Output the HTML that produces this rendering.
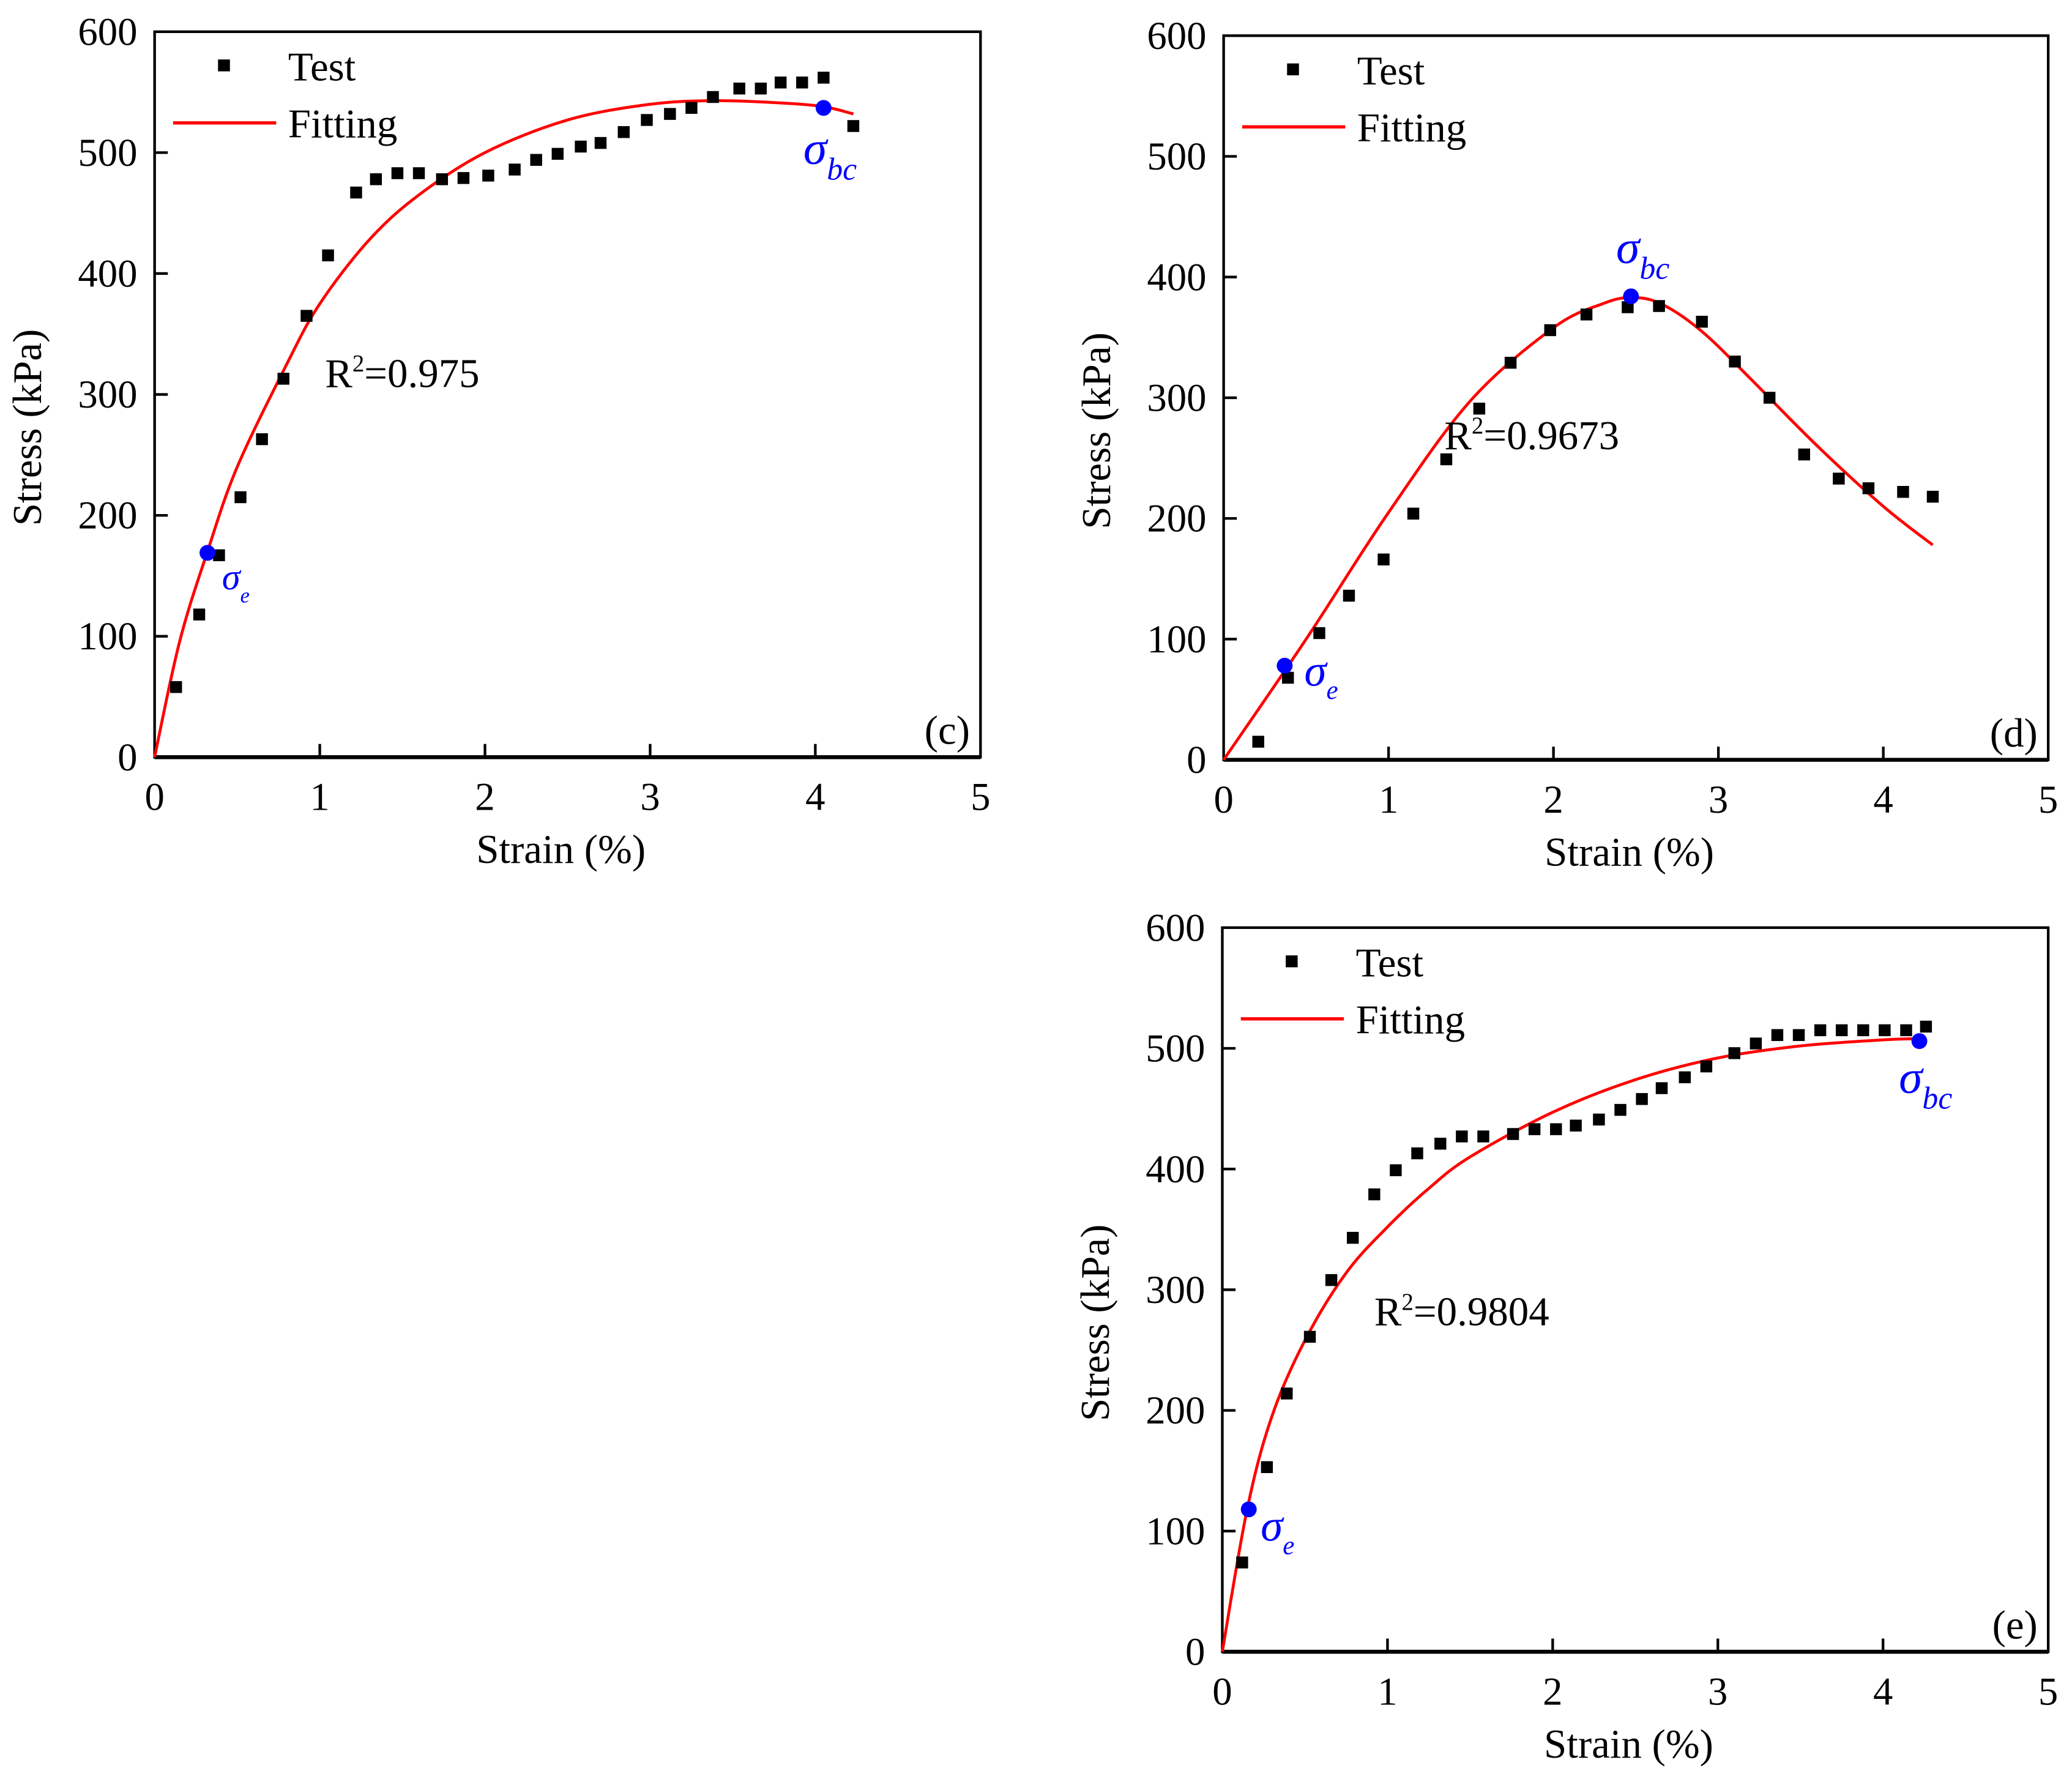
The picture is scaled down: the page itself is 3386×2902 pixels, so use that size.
<!DOCTYPE html>
<html><head><meta charset="utf-8">
<style>html,body{margin:0;padding:0;background:#fff}svg{display:block}svg text{font-family:"Liberation Serif","Noto Serif CJK SC",serif}</style>
</head><body>
<svg id="fig" xmlns="http://www.w3.org/2000/svg" width="3386" height="2902" viewBox="0 0 1568 1344" preserveAspectRatio="none"></svg>
<script>
// Panel (c)
const cStrain=[0.13,0.27,0.39,0.52,0.65,0.78,0.92,1.05,1.22,1.34,1.47,1.6,1.74,1.87,2.02,2.18,2.31,2.44,2.58,2.7,2.84,2.98,3.12,3.25,3.38,3.54,3.67,3.79,3.92,4.05,4.23];
const cStress=[58,118,167,215,263,313,365,415,467,478,483,483,478,479,481,486,494,499,505,508,517,527,532,537,546,553,553,558,558,562,522];
const cFitX=[0,0.15,0.32,0.5,0.8,1,1.3,1.6,2,2.5,3,3.4,3.8,4.05,4.23];
const cFitY=[0,95,170,240,325,375,428,465,500,527,540,543,541,538,532];
const cMarks=[[0.32,169],[4.05,537]];
// Panel (d)
const dStrain=[0.21,0.39,0.58,0.76,0.97,1.15,1.35,1.55,1.74,1.98,2.2,2.45,2.64,2.9,3.1,3.31,3.52,3.73,3.91,4.12,4.3];
const dStress=[15,68,105,136,166,204,249,291,329,356,369,375,376,363,330,300,253,233,225,222,218];
const dFitX=[0,0.5,1,1.5,2,2.3,2.47,2.65,2.9,3.2,3.6,4,4.3];
const dFitY=[0,100,205,298,358,378,383,378,355,315,260,210,178];
const dMarks=[[0.37,78],[2.47,384]];
// Panel (e)
const eStrain=[0.12,0.27,0.39,0.53,0.66,0.79,0.92,1.05,1.18,1.32,1.45,1.58,1.76,1.89,2.02,2.14,2.28,2.41,2.54,2.66,2.8,2.93,3.1,3.23,3.36,3.49,3.62,3.75,3.88,4.01,4.14,4.26];
const eStress=[74,153,214,261,308,343,379,399,413,421,427,427,429,433,433,436,441,449,458,467,476,485,496,504,511,511,515,515,515,515,515,518];
const eFitX=[0,0.15,0.3,0.5,0.75,1,1.25,1.5,2,2.5,3,3.5,4,4.22];
const eFitY=[0,118,195,258,314,352,384,410,447,474,492,502,507,508];
const eMarks=[[0.16,118],[4.22,506]];
const xTicks=[0,1,2,3,4,5];
const yTicks=[0,100,200,300,400,500,600];

const NS="http://www.w3.org/2000/svg";
const svg=document.getElementById('fig');
function mk(tag,attrs,parent,txt){const e=document.createElementNS(NS,tag);for(const k in attrs)e.setAttribute(k,attrs[k]);if(txt!==undefined)e.textContent=txt;(parent||svg).appendChild(e);return e;}
function smooth(pts){
  let d='M'+pts[0][0].toFixed(1)+','+pts[0][1].toFixed(1);
  for(let i=0;i<pts.length-1;i++){
    const p0=pts[Math.max(0,i-1)],p1=pts[i],p2=pts[i+1],p3=pts[Math.min(pts.length-1,i+2)];
    const c1=[p1[0]+(p2[0]-p0[0])/6,p1[1]+(p2[1]-p0[1])/6];
    const c2=[p2[0]-(p3[0]-p1[0])/6,p2[1]-(p3[1]-p1[1])/6];
    d+='C'+c1[0].toFixed(1)+','+c1[1].toFixed(1)+' '+c2[0].toFixed(1)+','+c2[1].toFixed(1)+' '+p2[0].toFixed(1)+','+p2[1].toFixed(1);
  }
  return d;
}

function panel(id,L,R,T,B,sx,sy,fx,fy,marks,r2,r2pos,label,sePos,sbPos,sigE_big){
  const g=mk('g',{});
  
  
  const X=v=>L+(R-L)*v/5, Y=v=>B-(B-T)*v/600;
  const f=mk('rect',{x:L,y:T,width:R-L,height:B-T,fill:'none',stroke:'#000','stroke-width':2},g);
  
  
  mk('line',{x1:L,y1:B,x2:R,y2:B,stroke:'#000','stroke-width':3},g);
  xTicks.forEach(t=>{
    if(t>0&&t<5)mk('line',{x1:X(t),y1:B,x2:X(t),y2:B-10,stroke:'#000','stroke-width':2},g);
    const tx=mk('text',{x:X(t),y:B+40,'font-size':30,'text-anchor':'middle'},g,String(t));
    
    
  });
  yTicks.forEach(t=>{
    if(t>0&&t<600)mk('line',{x1:L,y1:Y(t),x2:L+10,y2:Y(t),stroke:'#000','stroke-width':2},g);
    const ty=mk('text',{x:L-13,y:Y(t)+10,'font-size':30,'text-anchor':'end'},g,String(t));
    
    
  });
  const xt=mk('text',{x:(L+R)/2-5,y:B+80,'font-size':31,'text-anchor':'middle'},g,'Strain (%)');
  
  
  const yt=mk('text',{x:0,y:0,'font-size':31,'text-anchor':'middle',transform:`translate(${L-86},${(T+B)/2+25}) rotate(-90)`},g,'Stress (kPa)');
  
  
  const p=mk('path',{d:smooth(fx.map((v,i)=>[X(v),Y(fy[i])])),fill:'none',stroke:'#f00','stroke-width':2.2,'stroke-linejoin':'round'},g);
  
  
  sx.forEach((v,i)=>{
    const r=mk('rect',{x:X(v)-4.5,y:Y(sy[i])-4.5,width:9,height:9,fill:'#000'},g);
    
    
  });
  marks.forEach(m=>{
    const c=mk('circle',{cx:X(m[0]),cy:Y(m[1]),r:6,fill:'#00f'},g);
    
    
  });
  const lr=mk('rect',{x:L+48,y:T+21,width:9,height:9,fill:'#000'},g);
  
  
  const l1=mk('text',{x:L+101,y:T+37,'font-size':31},g,'Test');
  
  
  const ll=mk('line',{x1:L+14,y1:T+69,x2:L+92,y2:T+69,stroke:'#f00','stroke-width':2.5},g);
  
  
  const l2=mk('text',{x:L+101,y:T+80,'font-size':31},g,'Fitting');
  
  
  const rt=mk('text',{x:r2pos[0],y:r2pos[1],'font-size':31},g);
  
  
  mk('tspan',{},rt,'R');mk('tspan',{dy:-12,'font-size':18},rt,'2');mk('tspan',{dy:12},rt,'='+r2);
  const pl=mk('text',{x:R-8,y:B-10,'font-size':31,'text-anchor':'end'},g,label);
  
  
  const es=sigE_big?34:28, ss=sigE_big?20:16;
  const se=mk('text',{x:sePos[0],y:sePos[1],'font-size':es,'font-style':'italic',fill:'#00f'},g);
  
  
  mk('tspan',{},se,'σ');mk('tspan',{dy:10,'font-size':ss},se,'e');
  const sb=mk('text',{x:sbPos[0],y:sbPos[1],'font-size':36,'font-style':'italic',fill:'#00f'},g);
  
  
  mk('tspan',{},sb,'σ');mk('tspan',{dy:12,'font-size':24},sb,'bc');
}
panel('c',117,742,24,573,cStrain,cStress,cFitX,cFitY,cMarks,'0.975',[246,293],'(c)',[168,446],[608,124],false);
panel('d',926,1550,27,575,dStrain,dStress,dFitX,dFitY,dMarks,'0.9673',[1093,340],'(d)',[987,519],[1223,199],true);
panel('e',925,1550,702,1250,eStrain,eStress,eFitX,eFitY,eMarks,'0.9804',[1040,1003],'(e)',[954,1166],[1437,827],true);
</script>
</body></html>
